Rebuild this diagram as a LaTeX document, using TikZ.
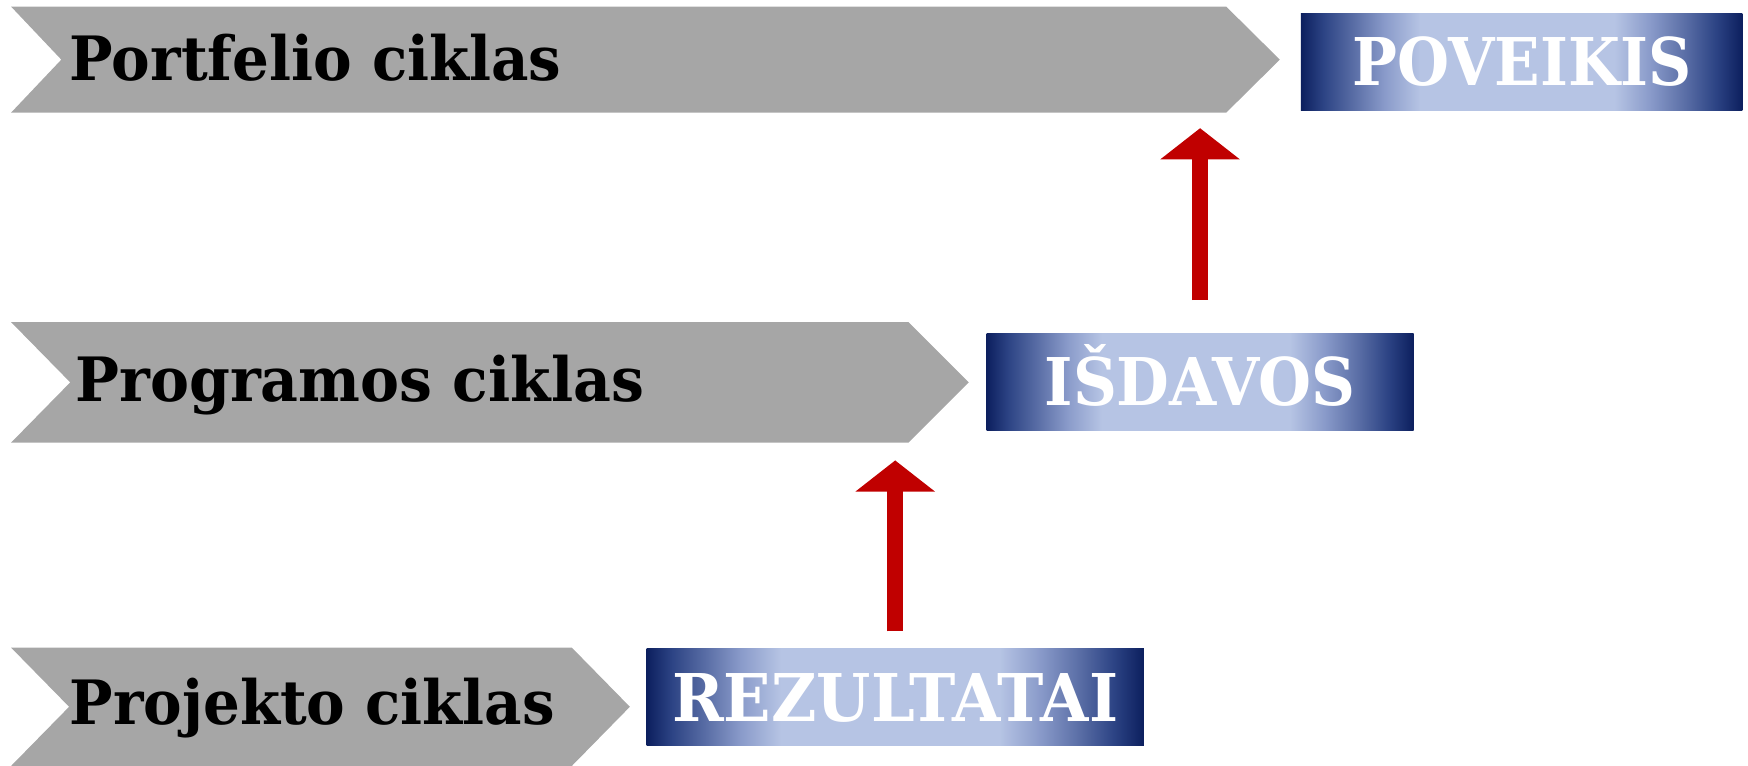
\documentclass[tikz,border=0pt]{standalone}
\usepackage{fontspec}
\setmainfont{DejaVu Serif}
\usetikzlibrary{arrows.meta}
\definecolor{chevron}{HTML}{A6A6A6}
\definecolor{boxdark}{HTML}{0C1F5E}
\definecolor{boxdeep}{HTML}{2C4384}
\definecolor{boxmid}{HTML}{5A6EA6}
\definecolor{boxsoft}{HTML}{8A9BCA}
\definecolor{boxlight}{HTML}{B6C4E4}
\definecolor{arrowred}{HTML}{C00000}
\pgfdeclarehorizontalshading{boxshade}{100bp}{color(0bp)=(boxdark); color(25bp)=(boxdark); color(27.5bp)=(boxdeep); color(31bp)=(boxmid); color(34.5bp)=(boxsoft); color(38.5bp)=(boxlight); color(60.5bp)=(boxlight); color(64.5bp)=(boxsoft); color(68.5bp)=(boxmid); color(72bp)=(boxdeep); color(75bp)=(boxdark); color(100bp)=(boxdark)}
\begin{document}
\begin{tikzpicture}
\tikzset{cyclelabel/.style={anchor=base west, inner sep=0pt, font=\fontsize{15.6}{18}\selectfont\bfseries},
resbox/.style={shade, shading=boxshade, minimum height=0.87cm, inner sep=0pt, text=white, text height=0.43cm, text depth=0pt, font=\fontsize{16.8}{20}\selectfont\bfseries},
uparrow/.style={draw=arrowred, line width=0.14cm, -{Triangle[width=0.7cm,length=0.28cm]}}}
\useasboundingbox (0,0) rectangle (15.68,6.87);
%Chevrons:
\fill[chevron] (0.10,6.81) -- (11.00,6.81) -- (11.48,6.335) -- (11.00,5.86) -- (0.10,5.86) -- (0.55,6.335) -- cycle;
\fill[chevron] (0.10,3.98) -- (8.15,3.98) -- (8.69,3.44) -- (8.15,2.90) -- (0.10,2.90) -- (0.63,3.44) -- cycle;
\fill[chevron] (0.10,1.06) -- (5.13,1.06) -- (5.65,0.53) -- (5.13,0) -- (0.10,0) -- (0.62,0.53) -- cycle;
\coordinate (portbot) at (0.10,5.86);
\coordinate (progbot) at (0.10,2.90);
\node[cyclelabel] (portfelio) at (0.62,6.15) {\resizebox{4.41cm}{\height}{Portfelio ciklas}};
\node[cyclelabel] (programos) at (0.67,3.27) {\resizebox{5.10cm}{\height}{Programos ciklas}};
\node[cyclelabel] (projekto) at (0.62,0.37) {\resizebox{4.35cm}{\height}{Projekto ciklas}};
%Results:
\node[resbox, minimum width=3.96cm] (poveikis) at (13.65,6.315) {\resizebox{3.04cm}{\height}{POVEIKIS}};
\node[resbox, minimum width=3.83cm] (isdavos) at (10.765,3.445) {\resizebox{2.79cm}{\height}{IŠDAVOS}};
\node[resbox, minimum width=4.46cm] (rezultatai) at (8.03,0.615) {\resizebox{4.00cm}{\height}{REZULTATAI}};
%Arrows:
\draw[uparrow] ([yshift=0.29cm]isdavos.north) -- ([yshift=-0.14cm]isdavos.north |- portbot);
\draw[uparrow] ([yshift=0.15cm]rezultatai.north) -- ([yshift=-0.16cm]rezultatai.north |- progbot);
\end{tikzpicture}
\end{document}
